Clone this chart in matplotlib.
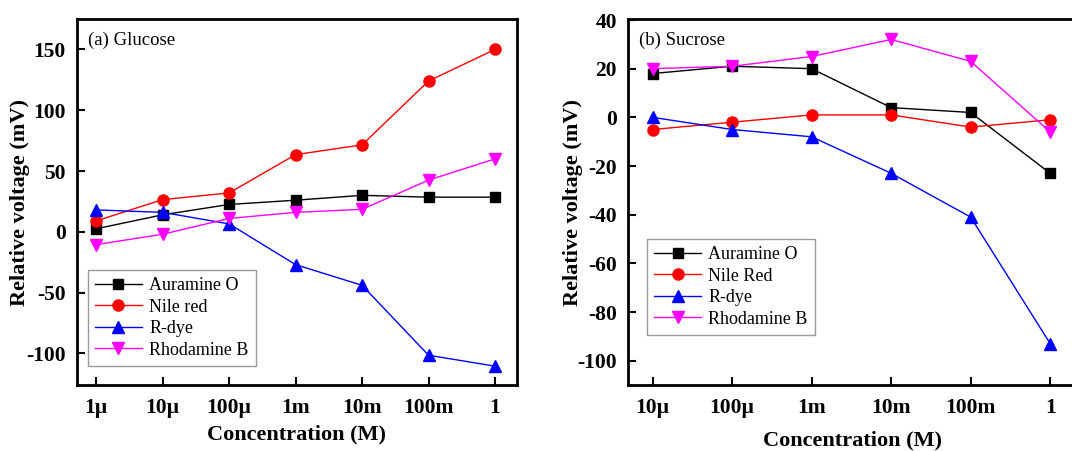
import matplotlib
matplotlib.use('Agg')
import matplotlib.pyplot as plt

plt.rcParams['font.family'] = ['Liberation Serif', 'DejaVu Serif']
plt.rcParams['axes.unicode_minus'] = False

# (a) Glucose
glu_ticks = ['1\u00b5', '10\u00b5', '100\u00b5', '1m', '10m', '100m', '1']
glu_auramine = [2.5, 14, 22.5, 26, 30, 28.5, 28.5]
glu_nile = [9, 26.5, 32, 63.5, 71.5, 124, 150]
glu_rdye = [18, 16, 6.5, -27, -44, -101.5, -110.5]
glu_rhod = [-10.5, -2, 11, 16, 18.5, 42.5, 60]

# (b) Sucrose
suc_ticks = ['10\u00b5', '100\u00b5', '1m', '10m', '100m', '1']
suc_auramine = [18, 21, 20, 4, 2, -23]
suc_nile = [-5, -2, 1, 1, -4, -1]
suc_rdye = [0, -5, -8, -23, -41, -93]
suc_rhod = [20, 21, 25, 32, 23, -6]


def style_axes(ax):
    for s in ['top', 'bottom', 'left', 'right']:
        ax.spines[s].set_linewidth(2)
    ax.tick_params(axis='both', direction='in', width=1.5, length=6,
                   labelsize=15.5, top=False, right=False)
    ax.tick_params(axis='x', pad=9)
    ax.tick_params(axis='y', pad=8)
    for lab in ax.get_xticklabels() + ax.get_yticklabels():
        lab.set_fontweight('bold')


def draw_panel(ax, ticks, auramine, nile, rdye, rhod, nile_name):
    x = range(len(ticks))
    ax.plot(x, auramine, color='black', marker='s', ms=7, lw=1, label='Auramine O')
    ax.plot(x, nile, color='red', marker='o', ms=8, lw=1, label=nile_name)
    ax.plot(x, rdye, color='blue', marker='^', ms=8.5, lw=1, label='R-dye')
    ax.plot(x, rhod, color='magenta', marker='v', ms=8.5, lw=1, label='Rhodamine B')
    ax.set_xticks(list(x))
    ax.set_xticklabels(ticks)
    ax.set_xlabel('Concentration (M)', fontsize=16, fontweight='bold')
    ax.set_ylabel('Relative voltage (mV)', fontsize=16, fontweight='bold')


def add_legend(ax, anchor):
    leg = ax.legend(loc='upper left', bbox_to_anchor=anchor,
                    bbox_transform=fig.transFigure, borderaxespad=0,
                    fontsize=13, fancybox=False, edgecolor='gray',
                    handlelength=2.6, labelspacing=0.25, borderpad=0.4,
                    handletextpad=0.4)
    leg.get_frame().set_linewidth(1)


fig = plt.figure(figsize=(10.72, 4.51), dpi=100)

ax1 = fig.add_axes([0.0718, 0.1463, 0.4104, 0.8115])
draw_panel(ax1, glu_ticks, glu_auramine, glu_nile, glu_rdye, glu_rhod, 'Nile red')
ax1.set_xlim(-0.29, 6.33)
ax1.set_ylim(-126, 175)
ax1.set_yticks([-100, -50, 0, 50, 100, 150])
style_axes(ax1)
ax1.xaxis.set_label_coords(0.5, -0.107)
ax1.yaxis.set_label_coords(-0.107, 0.5)
add_legend(ax1, (0.0818, 0.4013))
fig.text(0.082, 0.93, '(a) Glucose', fontsize=13.5, va='top')

ax2 = fig.add_axes([0.5858, 0.1463, 0.4198, 0.8115])
draw_panel(ax2, suc_ticks, suc_auramine, suc_nile, suc_rdye, suc_rhod, 'Nile Red')
ax2.set_xlim(-0.31, 5.35)
ax2.set_ylim(-110, 40.4)
ax2.set_yticks([-100, -80, -60, -40, -20, 0, 20, 40])
style_axes(ax2)
ax2.xaxis.set_label_coords(0.5, -0.123)
ax2.yaxis.set_label_coords(-0.101, 0.5)
add_legend(ax2, (0.6035, 0.470))
fig.text(0.596, 0.93, '(b) Sucrose', fontsize=13.5, va='top')

fig.savefig('out.png', dpi=100)
